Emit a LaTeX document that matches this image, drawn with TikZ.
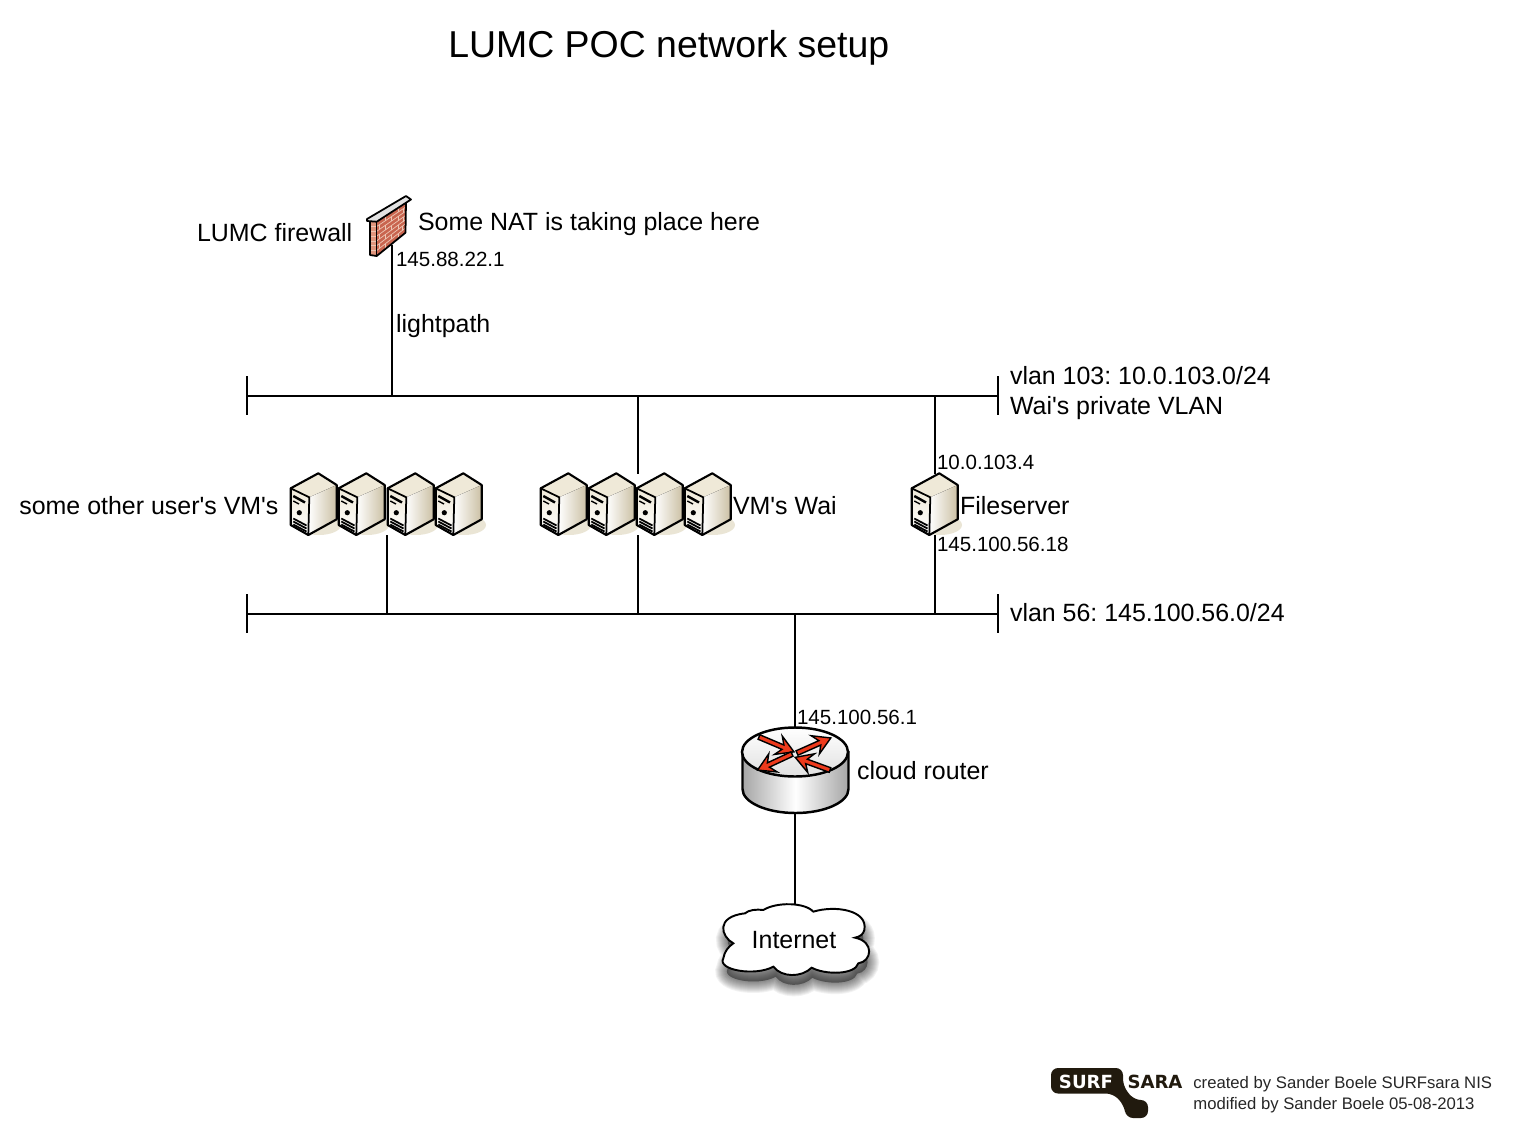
\documentclass[tikz,border=0pt]{standalone}
\usepackage{fontspec}
\setmainfont{Liberation Sans}[Ligatures=TeXOff]
\newfontfamily\logofont{DejaVu Sans}
\usetikzlibrary{calc}
\definecolor{brickred}{HTML}{C9654F}
\definecolor{brickside}{HTML}{E0957C}
\definecolor{mortar}{HTML}{EDC6B4}
\definecolor{capgray}{HTML}{E2E2E2}
\definecolor{beigetop}{HTML}{EFE9D8}
\definecolor{beigedark}{HTML}{CBC0A4}
\definecolor{beigeshadow}{HTML}{EAE5D5}
\definecolor{arrowred}{HTML}{EE3A1C}
\definecolor{logoblack}{HTML}{211A0E}
\newcommand{\cloudpath}{(85,145) .. controls (48,125) and (30,65) .. (120,55)
	.. controls (130,45) and (155,42) .. (175,45)
	.. controls (215,20) and (300,22) .. (325,50)
	.. controls (390,30) and (490,45) .. (478,105)
	.. controls (475,118) and (465,125) .. (450,128)
	.. controls (510,140) and (500,200) .. (460,205)
	.. controls (450,240) and (360,240) .. (320,218)
	.. controls (290,248) and (230,248) .. (205,215)
	.. controls (150,245) and (35,225) .. (55,190)
	.. controls (58,170) and (70,155) .. (85,145) -- cycle}
\tikzset{
	serverbox/.pic={
		\fill[beigeshadow] (29,52) ellipse (22 and 10);
		\fill[beigetop] (28.3,0.3) -- (0.7,15.3) -- (19.3,24.3) -- (46.7,12) -- cycle;
		\fill[top color=beigetop, bottom color=white] (0.7,15.3) -- (19.3,24.3) -- (18.3,62) -- (0.7,52) -- cycle;
		\fill[left color=white, right color=beigedark] (19.3,24.3) -- (46.7,12) -- (46.7,46.3) -- (18.3,62) -- cycle;
		\draw[line width=1.2pt, line join=round] (28.3,0.3) -- (0.7,15.3) -- (0.7,52) -- (18.3,62) -- (46.7,46.3) -- (46.7,12) -- cycle;
		\draw[line width=1pt, line join=round] (0.7,15.3) -- (19.3,24.3) -- (18.3,62);
		\draw[line width=1.4pt] (3.3,23) -- (15,29.5);
		\draw[line width=0.8pt] (3.3,28) -- (9,31);
		\fill (9.3,39.7) circle (2.6);
		\foreach \gy in {45.5,48.5,51.5} {
			\draw[line width=1pt] (3.3,\gy) -- (16.5,\gy+7);
		}
	}
}
\begin{document}
\frenchspacing
\begin{tikzpicture}[
		x=0.02cm, y=-0.02cm,
		busline/.style={line width=1.1pt},
		hub/.style={inner sep=0pt, minimum width=0.1cm},
		lbl/.style={anchor=base west, inner sep=0pt, font=\fontsize{14.2}{17}\selectfont},
		lblsmall/.style={anchor=base west, inner sep=0pt, font=\fontsize{11.7}{14}\selectfont},
		footer/.style={anchor=base west, inner sep=0pt, text=black!85, font=\fontsize{9.5}{12}\selectfont},
		logotext/.style={inner sep=0pt, font=\logofont\bfseries\fontsize{10.3}{12}\selectfont}
	]
	\useasboundingbox (0,0) rectangle (1516,1137);

	% --- Attachment points of the two VLANs ---
	\coordinate (v103w) at (247,396);
	\coordinate (v103e) at (998,396);
	\coordinate (v56w) at (247,614);
	\coordinate (v56e) at (998,614);

	% --- Invisible hubs the connectors run between ---
	\node[hub, minimum height=1cm] (firewall) at (392,220) {};
	\node[hub, minimum height=1.22cm] (vmother) at (387,504.5) {};
	\node[hub, minimum height=1.22cm] (vmwai) at (638,504.5) {};
	\node[hub, minimum height=1.22cm] (fileserver) at (935,504.5) {};
	\node[hub, minimum width=2.12cm, minimum height=1.72cm] (router) at (795,770) {};

	% --- Cloud with its shadow ---
	\begin{scope}[shift={(710,908)}, scale=0.32]
		\fill[black, opacity=0.4] \cloudpath;
		\foreach \w in {1,3,...,23} {
			\draw[black, opacity=0.05, line width=\w*0.57pt] \cloudpath;
		}
	\end{scope}
	\begin{scope}[shift={(705,895)}, scale=0.3333]
		\draw[fill=white, line width=1.1pt] \cloudpath;
	\end{scope}
	\node[lbl, anchor=center, minimum width=2.8cm, minimum height=1.38cm] (internet) at (794,940) {Internet};

	% --- Connections ---
	\draw[busline] (v103w) -- (v103e);
	\draw[busline] (v103w) ++(0,-20) -- ++(0,39);
	\draw[busline] (v103e) ++(0,-20) -- ++(0,39);
	\draw[busline] (v56w) -- (v56e);
	\draw[busline] (v56w) ++(0,-20) -- ++(0,39);
	\draw[busline] (v56e) ++(0,-20) -- ++(0,39);

	\draw[busline] (firewall.south) -- (firewall.south |- v103w);
	\draw[busline] (vmwai.north) -- (vmwai.north |- v103w);
	\draw[busline] (fileserver.north) -- (fileserver.north |- v103w);
	\draw[busline] (vmother.south) -- (vmother.south |- v56w);
	\draw[busline] (vmwai.south) -- (vmwai.south |- v56w);
	\draw[busline] (fileserver.south) -- (fileserver.south |- v56w);
	\draw[busline] (router.north) -- (router.north |- v56w);
	\draw[busline] (router.south) -- (router.south |- internet.north);

	% --- Firewall ---
	\coordinate (fwa) at (376.7,221.7);
	\coordinate (fwb) at (406,202.7);
	\coordinate (fwc) at (405.5,232.7);
	\coordinate (fwd) at (376.7,256);
	\fill[brickside] (370,221.7) -- (fwa) -- (fwd) -- (370,255) -- cycle;
	\fill[brickred] (fwa) -- (fwb) -- (fwc) -- (fwd) -- cycle;
	\foreach \t in {0.14,0.28,...,0.9} {
		\draw[mortar, line width=0.4pt] ($(fwa)!\t!(fwd)$) -- ($(fwb)!\t!(fwc)$);
		\draw[mortar, line width=0.4pt] ($(fwa)!\t!(fwd)$) -- ++(-6.7,0);
	}
	\foreach \t/\s in {0/0.3,0/0.75,0.14/0.1,0.14/0.5,0.14/0.9,0.28/0.3,0.28/0.75,0.42/0.1,0.42/0.5,0.42/0.9,0.56/0.3,0.56/0.75,0.7/0.1,0.7/0.5,0.7/0.9,0.84/0.3,0.84/0.75} {
		\draw[mortar, line width=0.4pt] ($($(fwa)!\t!(fwd)$)!\s!($(fwb)!\t!(fwc)$)$) -- ++(0,4.5);
	}
	\draw[line width=1pt, line join=round] (370,221.7) -- (370,255) -- (fwd) -- (fwc) -- (fwb);
	\draw[line width=0.6pt] (fwa) -- (fwd);
	\draw[fill=capgray, line width=1pt, line join=round] (367,219) -- (406,196) -- (411,199.5) -- (376.7,221.7) -- (367,221) -- cycle;

	% --- Servers ---
	\foreach \sx in {290,338,387,435,540,588,636,684,911} {
		\pic at (\sx,473) {serverbox};
	}

	% --- Router ---
	\draw[line width=1.4pt, left color=black!35, right color=black!35, middle color=white] (742.5,752) -- (742.5,789) arc[start angle=180, end angle=0, x radius=53, y radius=24] -- (848.5,752) -- cycle;
	\draw[line width=1.4pt, top color=white, bottom color=black!12] (795,752) ellipse (53 and 24.5);
	\foreach \ax/\ay/\aa/\al in {759/737/-23/38, 797/753/24/37, 792/754/205/38, 830/770/160/37} {
		\begin{scope}[shift={(\ax,\ay)}, rotate=\aa]
			\draw[fill=arrowred, line width=0.8pt, line join=miter] (0,2.4) -- (\al-12,2.4) -- (\al-17,10) -- (\al,0) -- (\al-17,-10) -- (\al-12,-2.4) -- (0,-2.4) -- cycle;
		\end{scope}
	}

	% --- Labels ---
	\node[lbl, font=\fontsize{21.3}{26}\selectfont] (title) at (448,57) {LUMC POC network setup};
	\node[lbl] (lfw) at (196.7,241) {LUMC firewall};
	\node[lbl] (lnat) at (417.7,230) {Some NAT is taking place here};
	\node[lblsmall] (ipfw) at (395.7,266) {145.88.22.1};
	\node[lbl] (lpath) at (395.7,332) {lightpath};
	\node[lbl] (lv103) at (1009.7,384) {vlan 103: 10.0.103.0/24};
	\node[lbl] (lwai) at (1009.7,414) {Wai's private VLAN};
	\node[lbl] (lother) at (19,514) {some other user's VM's};
	\node[lbl] (lvmw) at (732.7,514) {VM's Wai};
	\node[lbl] (lfile) at (959.7,514) {Fileserver};
	\node[lblsmall] (ipf1) at (936.7,469) {10.0.103.4};
	\node[lblsmall] (ipf2) at (936.7,551) {145.100.56.18};
	\node[lbl] (lv56) at (1009.7,621) {vlan 56: 145.100.56.0/24};
	\node[lblsmall] (iprt) at (796.7,724) {145.100.56.1};
	\node[lbl] (lrt) at (856.7,779) {cloud router};

	% --- Logo and credits ---
	\fill[logoblack, rounded corners=4pt] (1051,1068) -- (1123,1068) -- (1123,1086) -- (1134,1100) -- (1148,1100) -- (1148,1118) -- (1126,1118) -- (1124,1105) -- (1113,1093.5) -- (1051,1093.5) -- cycle;
	\node[logotext, text=white] (lsurf) at (1086,1082) {SURF};
	\node[logotext, text=logoblack] (lsara) at (1155,1082) {SARA};
	\node[footer] (lmade) at (1193,1088) {created by Sander Boele SURFsara NIS};
	\node[footer] (lmod) at (1193,1109) {modified by Sander Boele 05-08-2013};
\end{tikzpicture}
\end{document}
